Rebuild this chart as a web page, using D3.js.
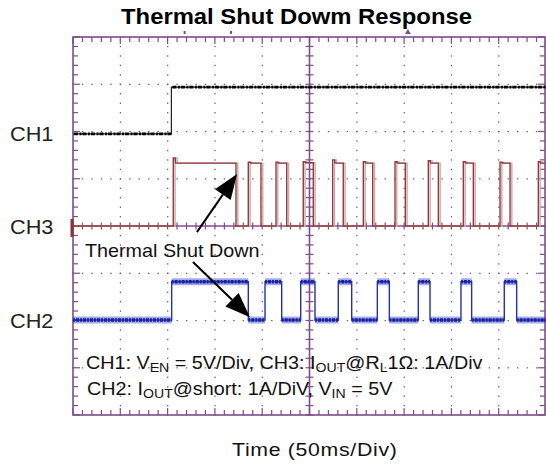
<!DOCTYPE html>
<html><head><meta charset="utf-8">
<script src="https://cdn.jsdelivr.net/npm/d3@7/dist/d3.min.js"></script>
<style>body{margin:0;background:#fff}svg{display:block}text{font-family:"Liberation Sans",Arial,sans-serif}</style>
</head><body><svg id="c" width="546" height="465"></svg>
<script>
// ---- data (time in ms, 50 ms/div; vertical in channel units) ----
const timeDomain = [0, 500];
const divDomain = [-4, 4];
// CH1: V_EN, 5 V/div, ground offset in divisions
const ch1Offset = 1.95, ch1Scale = 5;
const ch1Edges = [104];            // enable rising edge
const ch1Levels = [0, 4.95];       // volts before / after
// CH3: I_OUT @ RL 1Ω, 1 A/div
const ch3Offset = 0, ch3Scale = 1;
const ch3Rise = [106.0, 185.3, 214.6, 243.4, 274.5, 306.9, 340.4, 375.6, 412.6, 451.4, 491.9];
const ch3Fall = [172.3, 198.7, 225.9, 254.0, 285.7, 316.8, 351.3, 386.2, 423.2, 462.0, 500];
const ch3High = [1.33, 1.33, 1.33, 1.34, 1.33, 1.33, 1.33, 1.33, 1.33, 1.33, 1.33];
const ch3Peak = [1.44, 1.35, 1.35, 1.36, 1.40, 1.36, 1.36, 1.38, 1.36, 1.35, 1.36];
// CH2: I_OUT @ short, 1 A/div
const ch2Offset = -1.99, ch2Scale = 1;
const ch2Rise = [104.3, 203.0, 240.7, 280.4, 321.7, 365.0, 410.1, 455.9];
const ch2Fall = [185.3, 220.6, 255.8, 294.6, 334.4, 377.4, 421.4, 469.0];
const ch2High = 0.81;
// labels
const channelLabels = [{name:"CH1", div:1.95}, {name:"CH3", div:0}, {name:"CH2", div:-1.99}];
const arrows = [{from:[131, -0.13], to:[173.4, 1.10]}, {from:[126.8, -0.76], to:[187.1, -1.93]}];

// ---- scales ----
const L = 73, R = 546, T = 37, B = 415;
const x = d3.scaleLinear().domain(timeDomain).range([L, R]);
const y = d3.scaleLinear().domain(divDomain).range([B, T]);
const svg = d3.select("#c");
const purple = "#7f4c8c";

// ---- grid ----
const g = svg.append("g");
const xMinor = d3.range(0, 500.001, 10);
const yMinor = d3.range(-4, 4.001, 0.2);
const xMajor = d3.range(50, 451, 50).filter(v => v !== 250);
const yMajor = d3.range(-3, 3.01, 1).filter(v => v !== 0);
xMajor.forEach(t => yMinor.forEach(d => {
  g.append("rect").attr("x", x(t)-0.5).attr("y", y(d)-0.6).attr("width", 1.2).attr("height", 1.4).attr("fill", purple);
}));
yMajor.forEach(d => xMinor.forEach(t => {
  g.append("rect").attr("x", x(t)-0.6).attr("y", y(d)-0.5).attr("width", 1.4).attr("height", 1.2).attr("fill", purple);
}));
g.append("line").attr("x1", x(250)).attr("x2", x(250)).attr("y1", T).attr("y2", B).attr("stroke", purple).attr("stroke-width", 1.6);
g.append("line").attr("x1", L).attr("x2", R).attr("y1", y(0)).attr("y2", y(0)).attr("stroke", purple).attr("stroke-width", 1.6);
yMinor.forEach(d => g.append("line").attr("x1", x(250)-4).attr("x2", x(250)+4).attr("y1", y(d)).attr("y2", y(d)).attr("stroke", purple).attr("stroke-width", 1.2));
xMinor.forEach(t => g.append("line").attr("x1", x(t)).attr("x2", x(t)).attr("y1", y(0)-3.5).attr("y2", y(0)+3.5).attr("stroke", purple).attr("stroke-width", 1.2));
g.append("rect").attr("x", L).attr("y", T).attr("width", R-L-1).attr("height", B-T).attr("fill", "none").attr("stroke", purple).attr("stroke-width", 1.6);
xMinor.forEach(t => {
  const len = (t % 50 === 0) ? 7 : 5;
  g.append("line").attr("x1", x(t)).attr("x2", x(t)).attr("y1", T).attr("y2", T+len).attr("stroke", purple).attr("stroke-width", 1.2);
  g.append("line").attr("x1", x(t)).attr("x2", x(t)).attr("y1", B).attr("y2", B-len).attr("stroke", purple).attr("stroke-width", 1.2);
});
yMinor.forEach(d => {
  const len = (Math.abs(Math.round(d) - d) < 1e-6) ? 7 : 5;
  g.append("line").attr("x1", L).attr("x2", L+len).attr("y1", y(d)).attr("y2", y(d)).attr("stroke", purple).attr("stroke-width", 1.2);
  g.append("line").attr("x1", R-1).attr("x2", R-1-len).attr("y1", y(d)).attr("y2", y(d)).attr("stroke", purple).attr("stroke-width", 1.2);
});
svg.append("path").attr("d", `M${x(354)-3},${T-3}L${x(354)+3},${T-3}L${x(354)},${T-8}Z`).attr("fill", purple);
svg.append("rect").attr("x", x(118)-1).attr("y", T-6).attr("width", 2).attr("height", 3).attr("fill", purple);
svg.append("rect").attr("x", x(167)-1).attr("y", T-6).attr("width", 2).attr("height", 3).attr("fill", purple);

// ---- build traces ----
const line = d3.line().x(p => x(p[0])).y(p => y(p[1]));
const ch1Pts = [[timeDomain[0], ch1Offset + ch1Levels[0]/ch1Scale], [ch1Edges[0], ch1Offset + ch1Levels[0]/ch1Scale],
                [ch1Edges[0], ch1Offset + ch1Levels[1]/ch1Scale], [timeDomain[1], ch1Offset + ch1Levels[1]/ch1Scale]];
const ch3Pts = [[0, ch3Offset]];
ch3Rise.forEach((r, i) => {
  const f = ch3Fall[i];
  ch3Pts.push([r, ch3Offset], [r, ch3Offset + ch3Peak[i]/ch3Scale], [r + 2, ch3Offset + ch3Peak[i]/ch3Scale],
              [r + 2.5, ch3Offset + ch3High[i]/ch3Scale], [f, ch3Offset + ch3High[i]/ch3Scale]);
  if (f < timeDomain[1]) ch3Pts.push([f, ch3Offset]);
});
const ch2Pts = [[0, ch2Offset]];
const ch2Segs = [];
let prev = 0;
ch2Rise.forEach((r, i) => {
  const f = ch2Fall[i];
  ch2Segs.push([prev, r, ch2Offset], [r, f, ch2Offset + ch2High/ch2Scale]);
  ch2Pts.push([r, ch2Offset], [r, ch2Offset + ch2High/ch2Scale], [f, ch2Offset + ch2High/ch2Scale], [f, ch2Offset]);
  prev = f;
});
ch2Segs.push([prev, timeDomain[1], ch2Offset]);
ch2Pts.push([timeDomain[1], ch2Offset]);

const tr = svg.append("g");
tr.append("path").attr("d", line(ch3Pts)).attr("fill", "none").attr("stroke", "#d3a8a8").attr("stroke-width", 1.4).attr("transform", "translate(1.8,0)");
tr.append("path").attr("d", line(ch3Pts)).attr("fill", "none").attr("stroke", "#8e3b3f").attr("stroke-width", 1.4);
svg.append("rect").attr("x", L-2.5).attr("y", y(ch3Offset)-7).attr("width", 3).attr("height", 18).attr("fill", "#8e2f3a");
tr.append("path").attr("d", line(ch1Pts)).attr("fill", "none").attr("stroke", "#222").attr("stroke-width", 1.2);
[[ch1Pts[0], ch1Pts[1]], [ch1Pts[2], ch1Pts[3]]].forEach(s => {
  tr.append("line").attr("x1", x(s[0][0])+1).attr("x2", x(s[1][0])).attr("y1", y(s[0][1])).attr("y2", y(s[1][1]))
    .attr("stroke", "#000").attr("stroke-width", 2.6).attr("stroke-dasharray", "4,1.5,2,1");
});
tr.append("path").attr("d", line(ch2Pts)).attr("fill", "none").attr("stroke", "#2430b0").attr("stroke-width", 1.4);
ch2Segs.forEach(s => {
  tr.append("line").attr("x1", x(s[0])).attr("x2", x(s[1])).attr("y1", y(s[2])).attr("y2", y(s[2]))
    .attr("stroke", "#3a46c2").attr("stroke-width", 7).attr("opacity", 0.45);
  tr.append("line").attr("x1", x(s[0])).attr("x2", x(s[1])).attr("y1", y(s[2])).attr("y2", y(s[2]))
    .attr("stroke", "#1a22a4").attr("stroke-width", 3.5).attr("stroke-dasharray", "2,1,3,1");
});

// ---- arrows ----
arrows.forEach(a => {
  const x1 = x(a.from[0]), y1 = y(a.from[1]), x2 = x(a.to[0]), y2 = y(a.to[1]);
  const ang = Math.atan2(y2 - y1, x2 - x1), hl = 25, hw = 9.5;
  const bx = x2 - hl*Math.cos(ang), by = y2 - hl*Math.sin(ang);
  svg.append("line").attr("x1", x1).attr("y1", y1).attr("x2", bx).attr("y2", by).attr("stroke", "#000").attr("stroke-width", 2);
  svg.append("path").attr("d", `M${x2},${y2}L${bx + hw*Math.sin(ang)},${by - hw*Math.cos(ang)}L${bx - hw*Math.sin(ang)},${by + hw*Math.cos(ang)}Z`).attr("fill", "#000");
});

// ---- text ----
function stretched(xp, yp, sx, size) {
  return svg.append("text").attr("transform", `translate(${xp},${yp}) scale(${sx},1)`).attr("font-size", size).attr("fill", "#111");
}
stretched(296.5, 24, 1.06, 22.5).attr("text-anchor", "middle").attr("font-weight", "bold").attr("fill", "#000").text("Thermal Shut Dowm Response");
channelLabels.forEach(c => stretched(10, y(c.div) + 7.5, 1.06, 20.5).attr("fill", "#222").text(c.name));
stretched(85, 256.5, 1.04, 19).text("Thermal Shut Down");
function rich(xp, yp, parts) {
  const t = stretched(xp, yp, 1.13, 17.5);
  let low = false;
  parts.forEach(p => {
    const sub = !!p[1];
    const dy = sub && !low ? 3 : (!sub && low ? -3 : 0);
    const s = t.append("tspan").attr("dy", dy).text(p[0]);
    if (sub) s.attr("font-size", 12.5);
    low = sub;
  });
}
rich(86, 369, [["CH1: V"], ["EN", 1], [" = 5V/Div, CH3: I"], ["OUT", 1], ["@R"], ["L", 1], ["1Ω: 1A/Div"]]);
rich(87, 395, [["CH2: I"], ["OUT", 1], ["@short: 1A/DiV, V"], ["IN", 1], [" = 5V"]]);
stretched(232, 456, 1.15, 18.5).attr("letter-spacing", 0.6).text("Time  (50ms/Div)");
</script></body></html>
